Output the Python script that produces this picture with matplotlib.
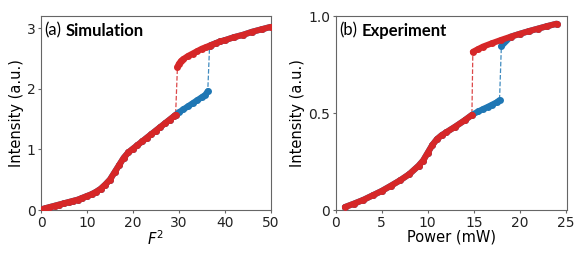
import matplotlib
matplotlib.use("Agg")
import matplotlib.pyplot as plt

# (a) simulation, lower branch (shared by both sweeps up to x=29.3, blue beyond)
sim_low_x = [0.5, 1, 2, 3, 4, 5, 6, 7, 8, 9, 10, 11, 12, 13, 14, 15, 16, 17, 18, 19,
             20, 21, 22, 23, 24, 25, 26, 27, 28, 29, 29.3,
             30, 31, 32, 33, 34, 35, 35.8, 36.3]
sim_low_y = [0.02, 0.03, 0.05, 0.07, 0.09, 0.11, 0.13, 0.15, 0.17, 0.20, 0.23, 0.26, 0.30,
             0.35, 0.42, 0.50, 0.62, 0.74, 0.86, 0.95, 1.01, 1.07, 1.13, 1.19, 1.25, 1.31,
             1.37, 1.43, 1.49, 1.55, 1.57,
             1.61, 1.66, 1.71, 1.76, 1.81, 1.86, 1.90, 1.96]
# (a) simulation, upper branch
sim_up_x = [29.7, 30, 30.5, 31, 32, 33, 34, 35, 36, 36.7, 37, 38, 39, 40, 42, 44, 46, 48, 50]
sim_up_y = [2.36, 2.41, 2.46, 2.49, 2.54, 2.58, 2.62, 2.66, 2.69, 2.71, 2.72, 2.75, 2.78,
            2.80, 2.85, 2.89, 2.94, 2.98, 3.02]
sim_jump_down = 29.3   # red sweep drops to the lower branch here
sim_jump_up = 36.3     # blue sweep leaves the lower branch here

# (b) experiment, lower branch
exp_low_x = [1, 2, 3, 4, 5, 6, 7, 8, 9, 9.5, 10, 10.5, 11, 11.5, 12, 13, 14, 14.8,
             15.5, 16, 16.5, 17, 17.5, 17.8]
exp_low_y = [0.015, 0.033, 0.052, 0.075, 0.098, 0.125, 0.153, 0.185, 0.228, 0.255, 0.295,
             0.335, 0.365, 0.385, 0.400, 0.430, 0.462, 0.490,
             0.508, 0.520, 0.531, 0.543, 0.555, 0.566]
# (b) experiment, upper branch
exp_up_x = [14.9, 15.5, 16, 17, 18, 19, 20, 21, 22, 23, 24]
exp_up_y = [0.815, 0.830, 0.842, 0.860, 0.877, 0.893, 0.908, 0.922, 0.935, 0.948, 0.960]
exp_up_blue_start = 0.845   # first blue point after the jump at 18 mW
exp_jump_down = 14.8
exp_jump_up = 17.8

BLUE = "#1f77b4"
RED = "#d62728"


def draw_sweep(ax, segs, color):
    # segs: list of (x, y) branch pieces in sweep order
    xs, ys = [], []
    for x, y in segs:
        xs += list(x)
        ys += list(y)
    ax.plot(xs, ys, "--", color=color, lw=0.9, alpha=0.85, zorder=2)
    for x, y in segs:
        ax.plot(x, y, "-o", color=color, lw=4.4, ms=5.0, solid_capstyle="round",
                solid_joinstyle="round", markeredgewidth=0, zorder=3)


def style_axes(ax):
    for s in ax.spines.values():
        s.set_color("0.4")
        s.set_linewidth(0.8)
    ax.tick_params(colors="0.4", labelcolor="#222222", labelsize=10, length=2.5,
                   width=0.8, pad=1.5)


def panel_title(ax, tag, word):
    t = ax.text(0.015, 0.965, tag, transform=ax.transAxes, ha="left", va="top",
                fontsize=12, family="Lato")
    ax.annotate(word, xy=(1, 0), xycoords=t, xytext=(3, 0), textcoords="offset points",
                ha="left", va="bottom", fontsize=12, family="Lato", weight="bold")


fig = plt.figure(figsize=(5.81, 2.54), dpi=100)
ax1 = fig.add_axes([0.0706, 0.1732, 0.3953, 0.7638])
ax2 = fig.add_axes([0.5778, 0.1732, 0.3976, 0.7638])

# --- (a) simulation
lo_b = [(x, y) for x, y in zip(sim_low_x, sim_low_y) if x <= sim_jump_up]
up_b = [(x, y) for x, y in zip(sim_up_x, sim_up_y) if x > sim_jump_up]
lo_r = [(x, y) for x, y in zip(sim_low_x, sim_low_y) if x <= sim_jump_down]
up_r = [(x, y) for x, y in zip(sim_up_x, sim_up_y)]
draw_sweep(ax1, [tuple(zip(*lo_b)), tuple(zip(*up_b))], BLUE)
draw_sweep(ax1, [tuple(zip(*up_r[::-1])), tuple(zip(*lo_r[::-1]))], RED)

ax1.set_xlim(0, 50)
ax1.set_ylim(0, 3.2)
ax1.set_xticks([0, 10, 20, 30, 40, 50])
ax1.set_yticks([0, 1, 2, 3])
ax1.set_xlabel(r"$F^2$", fontsize=10.5, labelpad=0)
ax1.set_ylabel("Intensity (a.u.)", fontsize=10.5, labelpad=2)
style_axes(ax1)
panel_title(ax1, "(a)", "Simulation")

# --- (b) experiment
lo_b = [(x, y) for x, y in zip(exp_low_x, exp_low_y) if x <= exp_jump_up]
up_b = [(exp_jump_up + 0.2, exp_up_blue_start)] + \
       [(x, y) for x, y in zip(exp_up_x, exp_up_y) if x > exp_jump_up + 0.2]
lo_r = [(x, y) for x, y in zip(exp_low_x, exp_low_y) if x <= exp_jump_down]
up_r = [(x, y) for x, y in zip(exp_up_x, exp_up_y)]
draw_sweep(ax2, [tuple(zip(*lo_b)), tuple(zip(*up_b))], BLUE)
draw_sweep(ax2, [tuple(zip(*up_r[::-1])), tuple(zip(*lo_r[::-1]))], RED)

ax2.set_xlim(0, 25.1)
ax2.set_ylim(0, 1.0)
ax2.set_xticks([0, 5, 10, 15, 20, 25])
ax2.set_yticks([0, 0.5, 1.0])
ax2.set_yticklabels(["0", "0.5", "1.0"])
ax2.set_xlabel("Power (mW)", fontsize=10.5, labelpad=0)
ax2.set_ylabel("Intensity (a.u.)", fontsize=10.5, labelpad=2)
style_axes(ax2)
panel_title(ax2, "(b)", "Experiment")

fig.savefig("out.png", dpi=100)
